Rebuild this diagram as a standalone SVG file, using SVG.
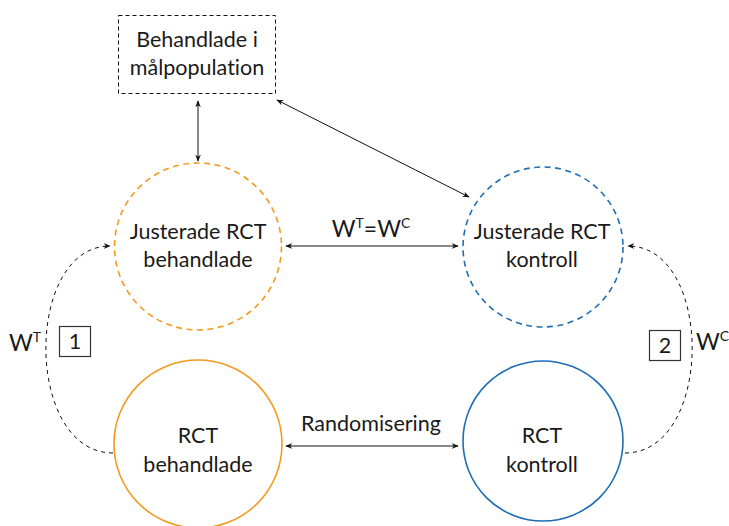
<svg xmlns="http://www.w3.org/2000/svg" width="729" height="526" viewBox="0 0 729 526">
  <defs>
    <marker id="arrow" viewBox="0 0 10 10" refX="9" refY="5" markerWidth="7" markerHeight="7" markerUnits="userSpaceOnUse" orient="auto-start-reverse">
      <path d="M0,1 L10,5 L0,9 L3,5 Z" fill="#111"/>
    </marker>
  </defs>
  <style>
    text { font-family: Lato, "Open Sans", "Liberation Sans", sans-serif; font-weight: 400; fill: #1a1a1a; font-variant-ligatures: none; }
    .lbl { font-size: 21.5px; text-anchor: middle; }
    .w { font-size: 23px; }
    .sup { font-size: 14px; }
    .orange { fill: none; stroke: #F39A1E; stroke-width: 1.6; }
    .blue { fill: none; stroke: #1F6DB5; stroke-width: 1.6; }
    .dashed { stroke-dasharray: 6 4.5; }
    .conn { fill: none; stroke: #111; stroke-width: 1; }
    .conn-dash { fill: none; stroke: #111; stroke-width: 1; stroke-dasharray: 4 4; }
    .tag { fill: #fff; stroke: #333; stroke-width: 1.2; }
  </style>

  <rect width="729" height="526" fill="#fff"/>

  <!-- connectors -->
  <g id="connectors">
    <line class="conn" x1="198" y1="101" x2="198" y2="161" marker-start="url(#arrow)" marker-end="url(#arrow)"/>
    <line class="conn" x1="277" y1="100" x2="469" y2="197" marker-start="url(#arrow)" marker-end="url(#arrow)"/>
    <line class="conn" x1="286" y1="246" x2="458" y2="246" marker-start="url(#arrow)" marker-end="url(#arrow)"/>
    <line class="conn" x1="286" y1="446" x2="458" y2="446" marker-start="url(#arrow)" marker-end="url(#arrow)"/>
    <path class="conn-dash" d="M113,453 C24,453 24,246 110,246" marker-end="url(#arrow)"/>
    <path class="conn-dash" d="M625,453 C714,453 714,246 628,246" marker-end="url(#arrow)"/>
    <text class="w" x="371" y="237" text-anchor="middle">W<tspan class="sup" dy="-9">T</tspan><tspan dy="9">=W</tspan><tspan class="sup" dy="-9">C</tspan></text>
    <text class="lbl" x="371" y="431">Randomisering</text>
    <text class="w" x="9" y="351">W<tspan class="sup" dy="-9">T</tspan></text>
    <text class="w" x="696" y="350">W<tspan class="sup" dy="-9">C</tspan></text>
  </g>

  <!-- step tags -->
  <g id="tag1">
    <rect class="tag" x="59.5" y="326.5" width="31" height="30"/>
    <text class="lbl" x="75" y="349">1</text>
  </g>
  <g id="tag2">
    <rect class="tag" x="649.5" y="330.5" width="31" height="30"/>
    <text class="lbl" x="665" y="353">2</text>
  </g>

  <!-- target population -->
  <g id="target">
    <rect x="118.5" y="15.5" width="157" height="78" fill="#fff" stroke="#111" stroke-width="1" stroke-dasharray="4 3"/>
    <text class="lbl" x="197" y="47">Behandlade i</text>
    <text class="lbl" x="197" y="75">målpopulation</text>
  </g>

  <!-- adjusted treated -->
  <g id="adj-treated">
    <circle class="orange dashed" cx="198" cy="246.5" r="83.5"/>
    <text class="lbl" x="198" y="239">Justerade RCT</text>
    <text class="lbl" x="198" y="267">behandlade</text>
  </g>

  <!-- adjusted control -->
  <g id="adj-control">
    <circle class="blue dashed" cx="543" cy="247" r="80"/>
    <text class="lbl" x="542" y="239">Justerade RCT</text>
    <text class="lbl" x="542" y="267">kontroll</text>
  </g>

  <!-- RCT treated -->
  <g id="rct-treated">
    <circle class="orange" cx="198" cy="444" r="84"/>
    <text class="lbl" x="198" y="443">RCT</text>
    <text class="lbl" x="198" y="472">behandlade</text>
  </g>

  <!-- RCT control -->
  <g id="rct-control">
    <circle class="blue" cx="543" cy="441" r="80"/>
    <text class="lbl" x="542" y="443">RCT</text>
    <text class="lbl" x="542" y="472">kontroll</text>
  </g>
</svg>
